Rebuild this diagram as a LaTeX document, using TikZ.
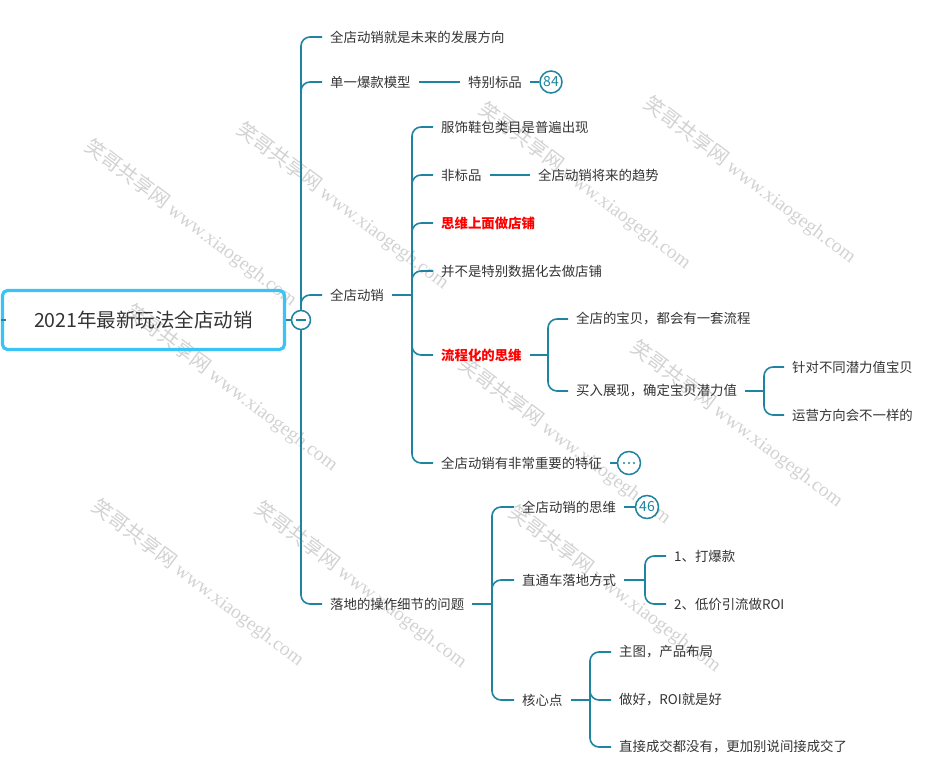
\documentclass[tikz,border=0pt]{standalone}
\usepackage{fontspec}
\setmainfont{Noto Sans CJK SC}
\newfontfamily\wmlat{Liberation Serif}
\definecolor{tealc}{HTML}{1F84A0}
\definecolor{txtc}{HTML}{333333}
\definecolor{rootc}{HTML}{3CC3F6}
\definecolor{wmc}{HTML}{D2D2D2}
\definecolor{redc}{HTML}{FF0000}
\newcommand{\wmtext}{\fontsize{20}{20}\selectfont 笑哥共享网 {\wmlat\fontsize{19.5}{20}\selectfont www.xiaogegh.com}}
\begin{document}
\begin{tikzpicture}[x=1pt,y=-1pt,
  conn/.style={draw=tealc,line width=1.6pt,rounded corners=9pt},
  txt/.style={anchor=west,inner xsep=8pt,inner ysep=2pt,font=\fontsize{13.4}{16}\selectfont,text=txtc},
  redtxt/.style={txt,text=redc,font=\fontsize{13.4}{16}\selectfont\bfseries},
  badge/.style={circle,draw=tealc,line width=1.5pt,fill=white,minimum size=23pt,inner sep=0pt,text=tealc,font=\fontsize{14}{14}\selectfont},
  wm/.style={rotate=-37,text=wmc,inner sep=0pt}
]
\useasboundingbox (0,0) rectangle (938,767);

% watermarks
\node[wm] (w1) at (191,223) {\wmtext};
\node[wm] (w2) at (343,206) {\wmtext};
\node[wm] (w3) at (585,186) {\wmtext};
\node[wm] (w4) at (750,180) {\wmtext};
\node[wm] (w5) at (232,388) {\wmtext};
\node[wm] (w6) at (565,441) {\wmtext};
\node[wm] (w7) at (737,424) {\wmtext};
\node[wm] (w8) at (198,583) {\wmtext};
\node[wm] (w9) at (361,585) {\wmtext};
\node[wm] (w10) at (615,589) {\wmtext};

% root
\node[draw=rootc,line width=3.2pt,rounded corners=5pt,minimum width=282pt,minimum height=59pt,
      text=txtc,font=\fontsize{19.5}{22}\selectfont] (root) at (143.5,320) {2021年最新玩法全店动销};
\draw[tealc,line width=2pt] (root.west) -- ++(5,0);
\coordinate (j0) at (301,320);

% level 1
\node[txt] (a1) at (322,37) {全店动销就是未来的发展方向};
\node[txt] (a2) at (322,82) {单一爆款模型};
\node[txt] (a3) at (322,295) {全店动销};
\node[txt] (a4) at (322,604) {落地的操作细节的问题};
\foreach \n in {a1,a2,a3,a4} \draw[conn] (j0) |- (\n.west);

\node[txt] (a2b) at (460,82) {特别标品};
\draw[conn] (a2.east) -- (a2b.west);
\node[badge,minimum size=22pt] (n84) at (551,82) {84};
\draw[conn] (a2b.east) -- (n84.west);

% 全店动销 branch
\coordinate (j3) at (412,295);
\draw[conn] (a3.east) -- (j3);
\node[txt] (b1) at (433,127) {服饰鞋包类目是普遍出现};
\node[txt] (b2) at (433,175) {非标品};
\node[redtxt] (b3) at (433,223) {思维上面做店铺};
\node[txt] (b4) at (433,271) {并不是特别数据化去做店铺};
\node[redtxt] (b5) at (433,355) {流程化的思维};
\node[txt] (b6) at (433,463) {全店动销有非常重要的特征};
\foreach \n in {b1,b2,b3,b4,b5,b6} \draw[conn] (j3) |- (\n.west);

\node[txt] (b2b) at (530,175) {全店动销将来的趋势};
\draw[conn] (b2.east) -- (b2b.west);

\node[badge] (dots) at (629,463) {};
\draw[conn] (b6.east) -- (dots.west);
\fill[tealc] (dots.center) circle (1.1pt) ([xshift=-5pt]dots.center) circle (1.1pt) ([xshift=5pt]dots.center) circle (1.1pt);

% 流程化的思维 branch
\coordinate (j5) at (548,355);
\draw[conn] (b5.east) -- (j5);
\node[txt] (c1) at (568,319) {全店的宝贝，都会有一套流程};
\node[txt] (c2) at (568,391) {买入展现，确定宝贝潜力值};
\foreach \n in {c1,c2} \draw[conn] (j5) |- (\n.west);

\coordinate (j6) at (764,391);
\draw[conn] (c2.east) -- (j6);
\node[txt] (d1) at (784,367) {针对不同潜力值宝贝};
\node[txt] (d2) at (784,415) {运营方向会不一样的};
\foreach \n in {d1,d2} \draw[conn] (j6) |- (\n.west);

% 落地的操作细节的问题 branch
\coordinate (j4) at (492,604);
\draw[conn] (a4.east) -- (j4);
\node[txt] (e1) at (514,507) {全店动销的思维};
\node[txt] (e2) at (514,580) {直通车落地方式};
\node[txt] (e3) at (514,700) {核心点};
\foreach \n in {e1,e2,e3} \draw[conn] (j4) |- (\n.west);

\node[badge] (n46) at (647,507) {46};
\draw[conn] (e1.east) -- (n46.west);

\coordinate (j7) at (645,580);
\draw[conn] (e2.east) -- (j7);
\node[txt] (f1) at (666,556) {1、打爆款};
\node[txt] (f2) at (666,604) {2、低价引流做ROI};
\foreach \n in {f1,f2} \draw[conn] (j7) |- (\n.west);

\coordinate (j8) at (590,700);
\draw[conn] (e3.east) -- (j8);
\node[txt] (g1) at (611,652) {主图，产品布局};
\node[txt] (g2) at (611,700) {做好，ROI就是好};
\node[txt] (g3) at (611,747) {直接成交都没有，更加别说间接成交了};
\foreach \n in {g1,g2,g3} \draw[conn] (j8) |- (\n.west);

% collapse button on root
\node[circle,draw=tealc,line width=1.5pt,fill=white,minimum size=19pt,inner sep=0pt] (col) at (j0) {};
\draw[tealc,line width=1.5pt] ([xshift=-5pt]col.center) -- ([xshift=5pt]col.center);
\draw[conn] (root.east) -- (col.west);
\end{tikzpicture}
\end{document}
